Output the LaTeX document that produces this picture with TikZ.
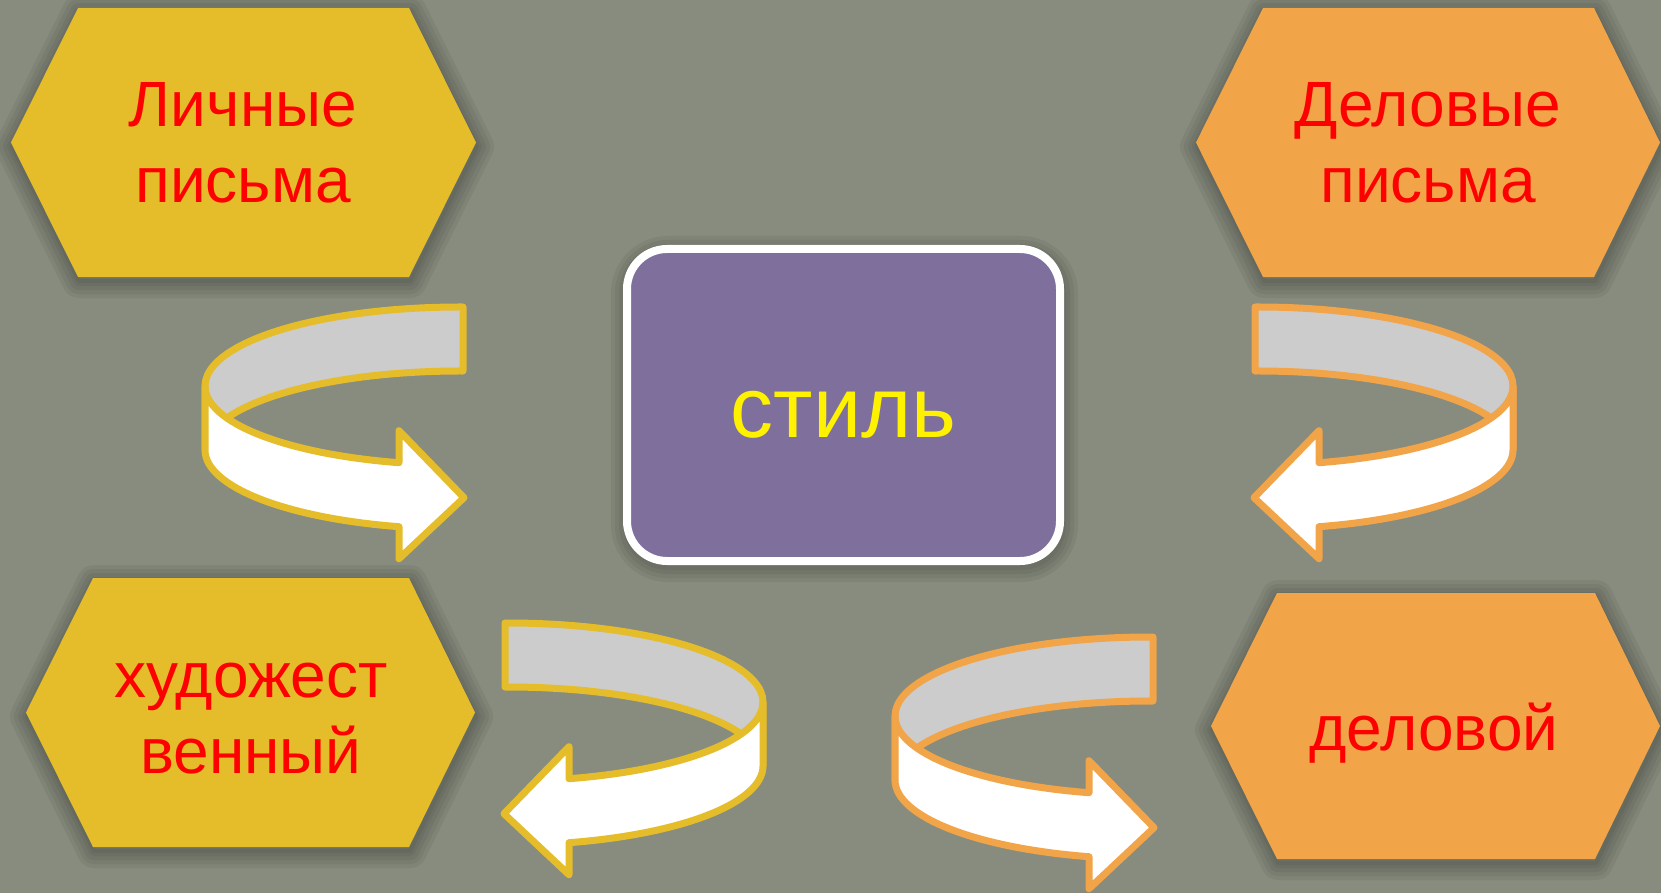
\documentclass[tikz,border=0pt]{standalone}
\usepackage{fontspec}
\setmainfont{Liberation Sans}

\definecolor{bgcol}{RGB}{135,140,126}
\definecolor{hexyellow}{RGB}{229,188,42}
\definecolor{hexorange}{RGB}{242,164,72}
\definecolor{boxpurple}{RGB}{126,111,156}
\definecolor{backgrey}{RGB}{204,204,204}

\tikzset{
  hexshadow/.style={draw=black,opacity=0.05,line join=round,shift={(1,4)}},
  hextext/.style={text=red,font=\fontsize{64}{76}\selectfont,align=center,inner sep=0pt},
  stilbox/.style={draw=white,fill=boxpurple,line width=8pt,rounded corners=40pt,
    minimum width=433pt,minimum height=312pt,text=yellow,
    font=\fontsize{86}{100}\selectfont,text height=64pt,text depth=0pt},
  band/.style={line width=7pt,line join=round}
}

% hexagon: left x, inner left, inner right, right x, top, bottom, colour
\newcommand{\hexa}[7]{%
  \foreach \w in {34,26,18,10,4}
    \draw[hexshadow,line width=\w pt] (#1,{(#5+#6)/2}) -- (#2,#5) -- (#3,#5) -- (#4,{(#5+#6)/2}) -- (#3,#6) -- (#2,#6) -- cycle;
  \fill[#7] (#1,{(#5+#6)/2}) -- (#2,#5) -- (#3,#5) -- (#4,{(#5+#6)/2}) -- (#3,#6) -- (#2,#6) -- cycle;
}

% ribbon arrow: centre x, centre y, xscale (1 or -1), colour
\newcommand{\ribbon}[4]{%
  \begin{scope}[shift={(#1,#2)},xscale=#3]
    % back side
    \draw[band,draw=#4,fill=backgrey] (3,-79) arc[start angle=-89.33,end angle=-180,x radius=255,y radius=79]
      -- ++(0,64) arc[start angle=180,end angle=270.67,x radius=255,y radius=79] -- cycle;
    % front side with head
    \draw[band,draw=#4,fill=white] (-255,0) arc[start angle=180,end angle=103.84,x radius=255,y radius=79]
      -- ++(0,-32) -- ++(65,67) -- ++(-65,61) -- ++(0,-32)
      arc[start angle=103.84,end angle=180,x radius=255,y radius=79] -- cycle;
  \end{scope}
}

\begin{document}
\begin{tikzpicture}[x=1pt,y=-1pt]
\useasboundingbox (0,0) rectangle (1661,893);
\fill[bgcol] (0,0) rectangle (1661,893);

% hexagons
\hexa{11}{78}{409}{476}{8}{277}{hexyellow}
\hexa{1196}{1263}{1594}{1660}{8}{277}{hexorange}
\hexa{26}{93}{409}{475}{578}{847}{hexyellow}
\hexa{1211}{1277}{1595}{1660}{593}{859}{hexorange}

\node[hextext] (lichn) at (243,143) {Личные\\письма};
\node[hextext] (delpis) at (1428,143) {Деловые\\письма};
\node[hextext] (hudozh) at (251,718.5) {художест\\венный};
\node[hextext,anchor=base] (delovoj) at (1434,750) {деловой};

% centre box
\foreach \w in {34,26,18,10}
  \draw[hexshadow,line width=\w pt,rounded corners=40pt] (627,249) rectangle (1060,561);
\node[stilbox] (stil) at (843.5,405) {стиль};

% arrows
\ribbon{460}{386}{1}{hexyellow}
\ribbon{1258}{386}{-1}{hexorange}
\ribbon{508}{702}{-1}{hexyellow}
\ribbon{1150}{716}{1}{hexorange}

\end{tikzpicture}
\end{document}
